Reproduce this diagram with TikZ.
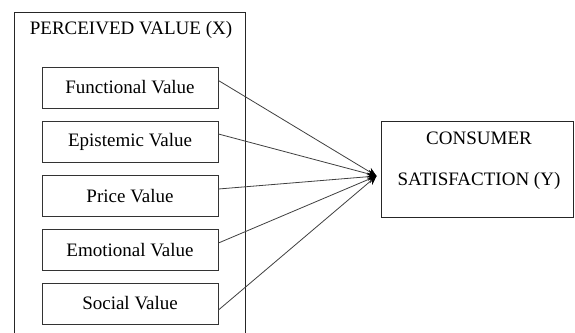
\documentclass[tikz,border=0pt]{standalone}
\usepackage{fontspec}
\setmainfont{Liberation Serif}
\usetikzlibrary{arrows.meta,positioning}

\begin{document}
\begin{tikzpicture}[x=1pt,y=-1pt,
  font=\fontsize{19}{22}\selectfont,
  valuebox/.style={draw=black!80, line width=0.9pt, minimum width=176pt, minimum height=41pt, inner sep=0pt},
  link/.style={draw=black!75, line width=0.8pt, -{Stealth[length=9pt,width=8pt,black]}}]

% ------------------------
% PAGE
% ------------------------
\clip (0,0) rectangle (575,332);
\fill[white] (0,0) rectangle (575,332);

% ------------------------
% Perceived value (X)
% ------------------------
\draw[black!85, line width=0.9pt] (14,12) rectangle (245,345);
\node (pvTitle) at (131,30) {PERCEIVED VALUE (X)};

\foreach \name/\y/\txt in {fun/87.5/Functional Value, epi/141.5/Epistemic Value,
                          pri/196/Price Value, emo/250/Emotional Value,
                          soc/303.5/Social Value}{
  \node[valuebox] (\name) at (130,\y) {\txt};
}

% ------------------------
% Consumer satisfaction (Y)
% ------------------------
\node[draw=black!85, line width=0.9pt, minimum width=192pt, minimum height=96pt, inner sep=0pt] (cs) at (477,169) {};
\node[align=center] (csLabel) at (479,161) {CONSUMER\\[19pt]SATISFACTION (Y)};

% Meeting point of the links (left of cs)
\coordinate (meet) at ([xshift=-4pt,yshift=-7pt]cs.west);

% ------------------------
% Links
% ------------------------
\foreach \name/\dy in {fun/7, epi/7.5, pri/7, emo/7, soc/-6.5}{
  \draw[link] ([yshift=\dy pt]\name.east) -- (meet);
}

\end{tikzpicture}
\end{document}
